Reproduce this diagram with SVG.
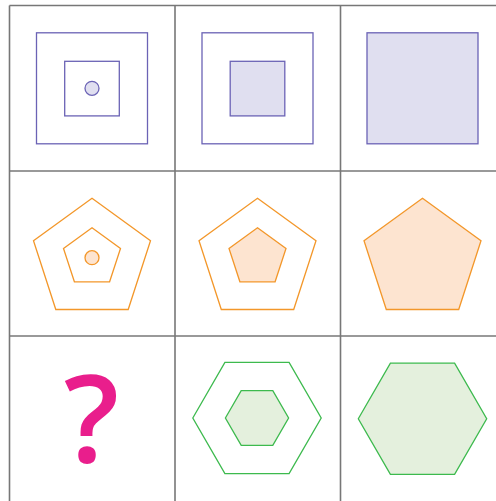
<svg xmlns="http://www.w3.org/2000/svg" width="496" height="501" viewBox="0 0 496 501">
<style>
.grid{stroke:#777;stroke-width:1.6;fill:none}
.sq{stroke:#6b63b5;stroke-width:1.3;fill:none}
.sqf{stroke:#6b63b5;stroke-width:1.3;fill:#e0dff0}
.pg{stroke:#f3972a;stroke-width:1.3;fill:none}
.pgf{stroke:#f3972a;stroke-width:1.3;fill:#fde4d0}
.hx{stroke:#3dba4e;stroke-width:1.3;fill:none}
.hxf{stroke:#3dba4e;stroke-width:1.3;fill:#e4f0dd}
</style>
<rect width="496" height="501" fill="#fff"/>
<g id="grid">
<line class="grid" x1="9.5" y1="5.5" x2="9.5" y2="501"/>
<line class="grid" x1="175" y1="5.5" x2="175" y2="501"/>
<line class="grid" x1="340.5" y1="5.5" x2="340.5" y2="501"/>
<line class="grid" x1="9.5" y1="5.5" x2="496" y2="5.5"/>
<line class="grid" x1="9.5" y1="171" x2="496" y2="171"/>
<line class="grid" x1="9.5" y1="336" x2="496" y2="336"/>
</g>
<g id="cell-1-1">
<rect class="sq" x="36.5" y="32.8" width="111" height="111"/>
<rect class="sq" x="64.7" y="61.3" width="54.6" height="54.6"/>
<circle class="sqf" cx="92" cy="88.3" r="7"/>
</g>
<g id="cell-1-2">
<rect class="sq" x="202" y="32.8" width="111" height="111"/>
<rect class="sqf" x="230.2" y="61.3" width="54.6" height="54.6"/>
</g>
<g id="cell-1-3">
<rect class="sqf" x="367" y="32.8" width="111" height="111"/>
</g>
<g id="cell-2-1" transform="translate(92,0)">
<polygon class="pg" points="0,198.3 58.5,240.8 36.2,309.5 -36.2,309.5 -58.5,240.8"/>
<polygon class="pg" points="0,227.7 28.5,248.4 17.6,281.8 -17.6,281.8 -28.5,248.4"/>
<circle class="pgf" cx="0" cy="257.7" r="7"/>
</g>
<g id="cell-2-2" transform="translate(257.5,0)">
<polygon class="pg" points="0,198.3 58.5,240.8 36.2,309.5 -36.2,309.5 -58.5,240.8"/>
<polygon class="pgf" points="0,227.7 28.5,248.4 17.6,281.8 -17.6,281.8 -28.5,248.4"/>
</g>
<g id="cell-2-3" transform="translate(422.5,0)">
<polygon class="pgf" points="0,198.3 58.5,240.8 36.2,309.5 -36.2,309.5 -58.5,240.8"/>
</g>
<g id="cell-3-1">
<text x="91.5" y="462" font-family="Open Sans, sans-serif" font-weight="600" font-size="122" fill="#e91e8c" text-anchor="middle">?</text>
</g>
<g id="cell-3-2" transform="translate(257,418)">
<polygon class="hx" points="-64.2,0 -32.1,-55.6 32.1,-55.6 64.2,0 32.1,55.6 -32.1,55.6"/>
<polygon class="hxf" points="-31.6,0 -15.8,-27.4 15.8,-27.4 31.6,0 15.8,27.4 -15.8,27.4"/>
</g>
<g id="cell-3-3" transform="translate(422.5,418.8)">
<polygon class="hxf" points="-64.2,0 -32.1,-55.6 32.1,-55.6 64.2,0 32.1,55.6 -32.1,55.6"/>
</g>
</svg>
